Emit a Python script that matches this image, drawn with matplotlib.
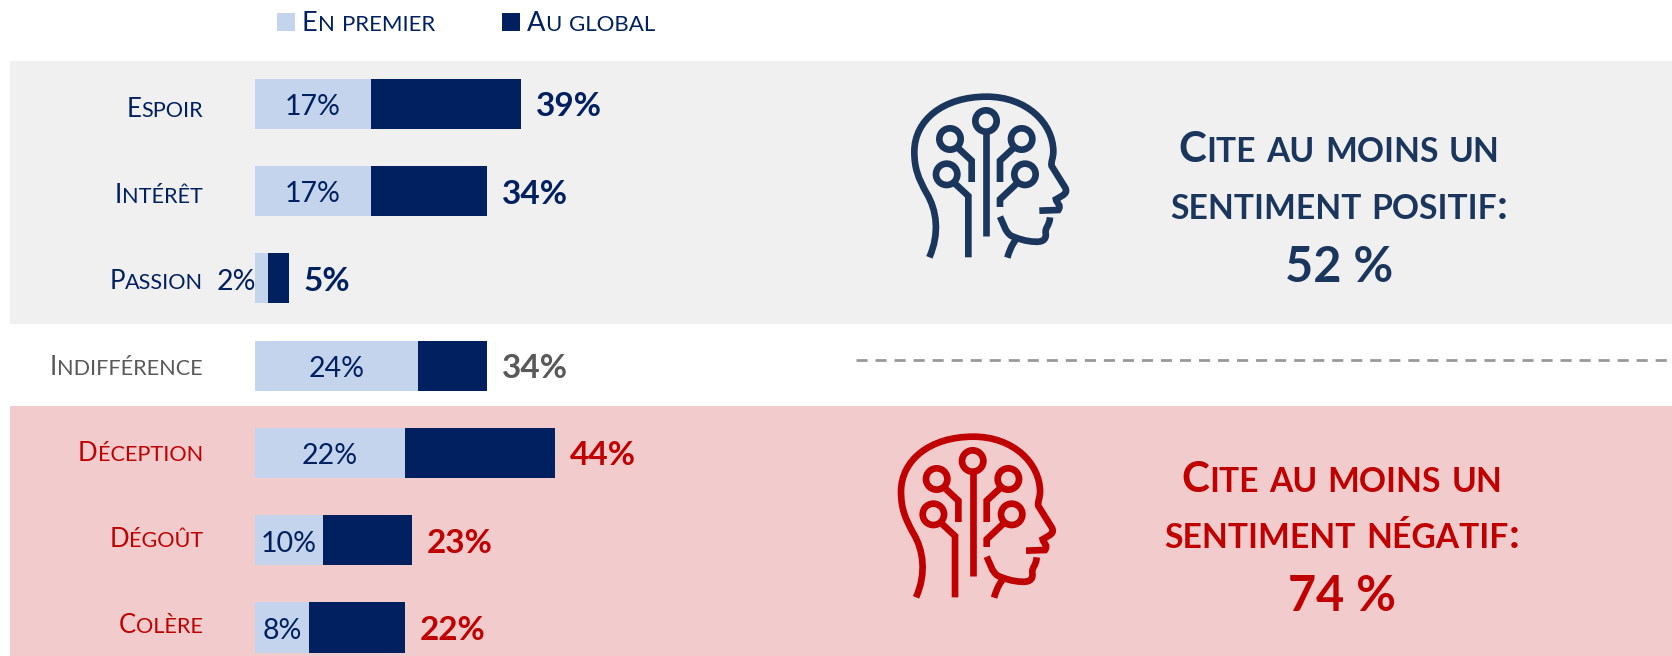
import matplotlib
matplotlib.use("Agg")
import matplotlib.pyplot as plt
from matplotlib.patches import Rectangle, Circle, PathPatch
from matplotlib.path import Path
from matplotlib.text import Text
from matplotlib.transforms import IdentityTransform
from matplotlib.font_manager import FontProperties

plt.rcParams['font.family'] = ['Lato', 'DejaVu Sans']

categories = ["Espoir", "Intérêt", "Passion", "Indifférence", "Déception", "Dégoût", "Colère"]
en_premier = [17, 17, 2, 24, 22, 10, 8]
au_global = [39, 34, 5, 34, 44, 23, 22]
legend_labels = ["En premier", "Au global"]
positive_lines = ["Cite au moins un", "sentiment positif:", "52 %"]
negative_lines = ["Cite au moins un", "sentiment négatif:", "74 %"]

NAVY = "#002060"
LIGHT = "#C3D4EC"
RED = "#C00000"
GREY = "#595959"
ICON_BLUE = "#1B365D"
label_colors = [NAVY, NAVY, NAVY, GREY, RED, RED, RED]
total_colors = [NAVY, NAVY, NAVY, GREY, RED, RED, RED]

W, H = 1672, 656
fig = plt.figure(figsize=(W / 100, H / 100), dpi=100, facecolor="white")


class SmallCaps(Text):
    """One text whose lowercase letters are drawn as small capitals."""

    def __init__(self, x, y, s, size, ratio=0.8, weight="normal", **kw):
        super().__init__(x, y, s, fontsize=size, fontweight=weight, va="baseline", **kw)
        self.sc_size, self.sc_ratio, self.sc_weight = size, ratio, weight

    def _runs(self):
        runs = []
        for ch in self.get_text():
            small = ch.islower()
            c = ch.upper() if small else ch
            if runs and runs[-1][1] == small:
                runs[-1][0] += c
            else:
                runs.append([c, small])
        return runs

    def _fp(self, small):
        size = self.sc_size * (self.sc_ratio if small else 1)
        return FontProperties(family=plt.rcParams['font.family'], size=size, weight=self.sc_weight)

    def _layout(self, renderer):
        out, total = [], 0.0
        for s, small in self._runs():
            fp = self._fp(small)
            full = renderer.get_text_width_height_descent("|" + s + "|", fp, False)[0]
            bars = renderer.get_text_width_height_descent("||", fp, False)[0]
            out.append((s, fp, total))
            total += full - bars
        return out, total

    def get_window_extent(self, renderer=None, dpi=None):
        renderer = renderer or self.get_figure().canvas.get_renderer()
        return super().get_window_extent(renderer, dpi)

    def draw(self, renderer):
        if not self.get_visible():
            return
        layout, total = self._layout(renderer)
        px, py = self.get_transform().transform(self.get_unitless_position())
        ha = self.get_ha()
        start = px - total if ha == "right" else px - total / 2 if ha == "center" else px
        for s, fp, off in layout:
            t = Text(start + off, py, s, fontproperties=fp, color=self.get_color(),
                     ha="left", va="baseline", transform=IdentityTransform())
            t.set_figure(self.get_figure())
            t.draw(renderer)


# Background axes in pixel coordinates: bands, icons, side texts
bg = fig.add_axes([0, 0, 1, 1], zorder=0)
bg.set_xlim(0, W)
bg.set_ylim(H, 0)
bg.axis("off")
bg.add_patch(Rectangle((10, 61), W - 10, 263, fc="#F0F0F0", ec="none"))
bg.add_patch(Rectangle((10, 406), W - 10, H - 406, fc="#F2CBCC", ec="none"))
bg.plot([856, W], [360, 360], color="#999999", lw=2.0, dashes=(4.0, 2.85), dash_capstyle="butt")


def head(ax, ox, oy, color):
    def u(pts):
        return [(ox + a / 3, oy + b / 3) for a, b in pts]

    M, L, C = Path.MOVETO, Path.LINETO, Path.CURVE4
    kw = dict(fc="none", ec=color, lw=4.8, capstyle="butt", joinstyle="miter")
    outline = [(148, 562), (180, 490), (170, 420), (140, 370), (115, 325), (103, 295), (103, 245),
               (103, 150), (190, 80), (320, 80), (440, 80), (520, 160), (520, 245),
               (520, 265), (512, 275), (515, 288), (555, 352), (565, 370), (550, 375), (528, 388),
               (530, 400), (545, 405), (535, 420), (478, 422)]
    codes = [M] + [C] * 3 * 4 + [C] * 3 + [L] + [C] * 6 + [L]
    ax.add_patch(PathPatch(Path(u(outline), codes), **kw))
    chin = [(510, 442), (508, 470), (495, 470), (497, 490), (500, 510), (485, 517), (465, 515),
            (440, 515), (410, 505), (393, 497), (375, 485), (370, 460), (360, 440)]
    ax.add_patch(PathPatch(Path(u(chin), [M] + [C] * 12), **kw))
    neck = [(382, 563), (388, 545), (392, 530), (407, 510)]
    ax.add_patch(PathPatch(Path(u(neck), [M] + [C] * 3), **kw))
    for a, b in [(318, 153), (210, 207), (425, 207), (200, 313), (435, 313)]:
        cx, cy = u([(a, b)])[0]
        ax.add_patch(Circle((cx, cy), 32 / 3, fc="none", ec=color, lw=4.8))
    for seg in ([(318, 185), (318, 497)],
                [(232, 232), (275, 272), (275, 336)],
                [(403, 232), (360, 272), (360, 336)],
                [(222, 338), (265, 378), (265, 562)],
                [(413, 338), (360, 388), (360, 411)]):
        ax.add_patch(PathPatch(Path(u(seg), [M] + [L] * (len(seg) - 1)), **kw))


head(bg, 880, 70, ICON_BLUE)
head(bg, 866.7, 410, RED)


def side_text(lines, cx, baselines, color):
    for line, b in zip(lines[:2], baselines):
        bg.add_artist(SmallCaps(cx, b, line, 30.3, ratio=0.8, weight="bold", color=color, ha="center"))
    bg.text(cx, baselines[2], lines[2], fontsize=35, fontweight="bold", color=color, ha="center", va="baseline")


side_text(positive_lines, 1339, [162, 219, 282], ICON_BLUE)
side_text(negative_lines, 1342, [491.5, 548.5, 611], RED)

# Legend
for x0, col, lab in zip([277, 502], [LIGHT, NAVY], legend_labels):
    bg.add_patch(Rectangle((x0, 13), 18, 18, fc=col, ec="none"))
    bg.add_artist(SmallCaps(x0 + 25, 31, lab, 19.6, ratio=0.82, color=NAVY, ha="left"))

# Category labels (their spacing differs slightly from the bars')
for i, (lab, col) in enumerate(zip(categories, label_colors)):
    bg.add_artist(SmallCaps(203, 116.7 + 86 * i, lab, 18.5, ratio=0.84, color=col, ha="right"))

# Chart axes: x in percent, y in category index
px_per_pct = 6.83
ax = fig.add_axes([0, 0, 1, 1], zorder=1)
ax.patch.set_alpha(0)
ax.set_xlim(-254.5 / px_per_pct, (W - 254.5) / px_per_pct)
ax.set_ylim((H - 103.7) / 87.3, -103.7 / 87.3)
ax.axis("off")

ypos = list(range(len(categories)))
rest = [g - p for g, p in zip(au_global, en_premier)]
ax.barh(ypos, en_premier, height=0.573, color=LIGHT)
ax.barh(ypos, rest, left=en_premier, height=0.573, color=NAVY)

for y, p, g, col in zip(ypos, en_premier, au_global, total_colors):
    if p < 5:
        ax.annotate(f"{p}%", (0, y), xytext=(1.5, -2.5), textcoords="offset points", ha="right", va="center",
                    fontsize=20.5, color=NAVY)
    else:
        ax.annotate(f"{p}%", (p / 2, y), xytext=(0, -2.5), textcoords="offset points", ha="center", va="center",
                    fontsize=20.5, color=NAVY)
    ax.annotate(f"{g}%", (g, y), xytext=(11, -2.2), textcoords="offset points", ha="left", va="center",
                fontsize=24, fontweight="bold", color=col)

fig.savefig("out.png", dpi=100, facecolor="white")
